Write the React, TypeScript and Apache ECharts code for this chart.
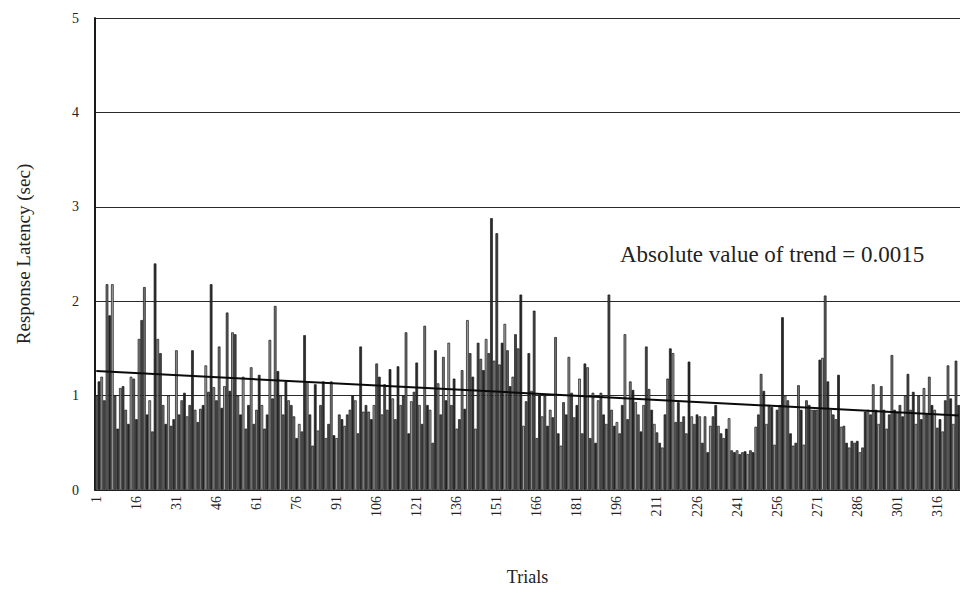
import React, { useEffect, useRef } from "react";
import * as echarts from "echarts";

// Response latency (sec) for each trial, in trial order (15 trials per row)
const latency: number[] = [
  1.0, 1.15, 1.2, 0.95, 2.18, 1.85, 2.18, 1.0, 0.65, 1.08, 1.1, 0.85, 0.7, 1.2, 1.18,
  0.75, 1.6, 1.8, 2.15, 0.8, 0.95, 0.62, 2.4, 1.6, 1.45, 0.9, 0.7, 1.0, 0.68, 0.75,
  1.48, 0.8, 0.95, 1.03, 0.78, 0.9, 1.48, 0.85, 0.72, 0.86, 0.9, 1.32, 1.04, 2.18, 1.09,
  0.95, 1.52, 0.87, 1.1, 1.88, 1.05, 1.67, 1.65, 1.0, 0.8, 1.2, 0.65, 0.9, 1.3, 0.7,
  0.85, 1.22, 0.9, 0.65, 0.8, 1.59, 0.97, 1.95, 1.26, 1.0, 0.8, 1.15, 0.95, 0.9, 0.78,
  0.55, 0.7, 0.62, 1.64, 1.15, 0.8, 0.47, 1.12, 0.63, 0.9, 1.15, 0.55, 0.7, 1.15, 0.58,
  0.55, 0.8, 0.75, 0.68, 0.8, 0.85, 1.0, 0.95, 0.6, 1.52, 0.83, 0.9, 0.83, 0.75, 0.9,
  1.34, 1.2, 0.8, 1.12, 0.85, 1.28, 0.97, 0.75, 1.31, 0.9, 1.0, 1.67, 0.6, 0.94, 1.04,
  1.35, 0.9, 0.7, 1.74, 0.9, 0.85, 0.5, 1.48, 1.13, 0.8, 1.41, 0.95, 1.56, 0.9, 1.18,
  0.65, 0.75, 1.27, 0.86, 1.8, 1.45, 1.2, 0.65, 1.56, 1.39, 1.27, 1.6, 1.45, 2.88, 1.37,
  2.72, 1.33, 1.56, 1.76, 1.48, 1.1, 1.2, 1.65, 1.5, 2.07, 0.68, 0.94, 1.45, 1.05, 1.9,
  0.55, 1.0, 0.78, 1.0, 0.68, 0.85, 0.77, 1.62, 0.6, 0.47, 0.93, 0.8, 1.41, 1.03, 0.77,
  0.9, 1.18, 0.6, 1.34, 1.3, 0.55, 1.03, 0.5, 0.95, 1.03, 0.8, 0.7, 2.07, 0.85, 0.68,
  0.72, 0.6, 0.9, 1.65, 0.75, 1.15, 1.06, 0.93, 0.8, 0.62, 0.9, 1.52, 1.07, 0.85, 0.7,
  0.61, 0.5, 0.45, 0.8, 1.18, 1.5, 1.45, 0.72, 0.93, 0.72, 0.78, 0.6, 1.36, 0.78, 0.7,
  0.8, 0.78, 0.5, 0.78, 0.4, 0.68, 0.78, 0.9, 0.68, 0.6, 0.55, 0.65, 0.76, 0.42, 0.4,
  0.42, 0.38, 0.4, 0.41, 0.38, 0.42, 0.4, 0.67, 0.8, 1.23, 1.05, 0.7, 0.9, 0.88, 0.48,
  0.85, 0.9, 1.83, 1.0, 0.95, 0.6, 0.47, 0.5, 1.11, 0.85, 0.48, 0.95, 0.9, 0.85, 0.85,
  0.85, 1.38, 1.4, 2.06, 1.15, 0.85, 0.8, 0.75, 1.22, 0.67, 0.68, 0.5, 0.45, 0.52, 0.5,
  0.52, 0.4, 0.45, 0.83, 0.85, 0.8, 1.12, 0.85, 0.7, 1.1, 0.85, 0.65, 0.8, 1.43, 0.85,
  0.82, 0.9, 0.78, 1.0, 1.23, 0.85, 1.04, 0.7, 1.0, 0.75, 1.08, 0.8, 1.2, 0.9, 0.85,
  0.66, 0.75, 0.62, 0.95, 1.32, 0.97, 0.7, 1.37, 0.9,
];

// Trial numbers on the category axis
const trials: string[] = latency.map((_, i) => String(i + 1));
const trialLabelStep = 15;

// Linear trend across all trials (value at first and last trial)
const trendStart = 1.26;
const trendEnd = 0.79;
const trendNote = "Absolute value of trend = 0.0015";

// Latency axis range
const yMin = 0;
const yMax = 5;
const yStep = 1;

const barShades = ["#5a5a5a", "#2e2e2e", "#8c8c8c", "#444444", "#737373", "#262626", "#a0a0a0"];
const serif = "'Liberation Serif', 'DejaVu Serif', serif";

export default function App() {
  const ref = useRef<HTMLDivElement>(null);

  useEffect(() => {
    const chart = echarts.init(ref.current!, null, { renderer: "svg" });
    chart.setOption({
      animation: false,
      backgroundColor: "#ffffff",
      grid: { left: 95, right: 0, top: 18, bottom: 97, containLabel: false },
      xAxis: {
        type: "category",
        data: trials,
        name: "Trials",
        nameLocation: "middle",
        nameGap: 78,
        nameTextStyle: { fontFamily: serif, fontSize: 18, color: "#222" },
        axisLine: { show: true, lineStyle: { color: "#222", width: 1 } },
        axisTick: { show: false },
        axisLabel: {
          interval: trialLabelStep - 1,
          rotate: 90,
          margin: 6,
          fontFamily: serif,
          fontSize: 14,
          color: "#222",
        },
        splitLine: { show: false },
      },
      yAxis: {
        type: "value",
        min: yMin,
        max: yMax,
        interval: yStep,
        name: "Response Latency (sec)",
        nameLocation: "middle",
        nameGap: 62,
        nameTextStyle: { fontFamily: serif, fontSize: 19, color: "#222" },
        axisLine: { show: true, lineStyle: { color: "#1a1a1a", width: 2 } },
        axisTick: { show: false },
        axisLabel: { margin: 16, fontFamily: serif, fontSize: 14, color: "#222" },
        splitLine: { show: true, lineStyle: { color: "#2a2a2a", width: 1.2 } },
      },
      series: [
        {
          type: "bar",
          data: latency,
          barCategoryGap: "0%",
          itemStyle: {
            color: (p: any) => barShades[p.dataIndex % barShades.length],
            borderColor: "#1a1a1a",
            borderWidth: 0.7,
          },
          markLine: {
            silent: true,
            symbol: ["none", "none"],
            label: { show: false },
            lineStyle: { color: "#0a0a0a", width: 2, type: "solid" },
            data: [
              [
                { coord: [trials[0], trendStart] },
                { coord: [trials[trials.length - 1], trendEnd] },
              ],
            ],
          },
        },
      ],
      graphic: [
        {
          type: "text",
          left: 620,
          top: 243,
          style: {
            text: trendNote,
            fontFamily: serif,
            fontSize: 23,
            fill: "#222",
          },
        },
      ],
    });
    return () => chart.dispose();
  }, []);

  return (
    <div
      ref={ref}
      style={{ position: "fixed", left: 0, top: 0, width: 960, height: 591, background: "#fff" }}
    />
  );
}
